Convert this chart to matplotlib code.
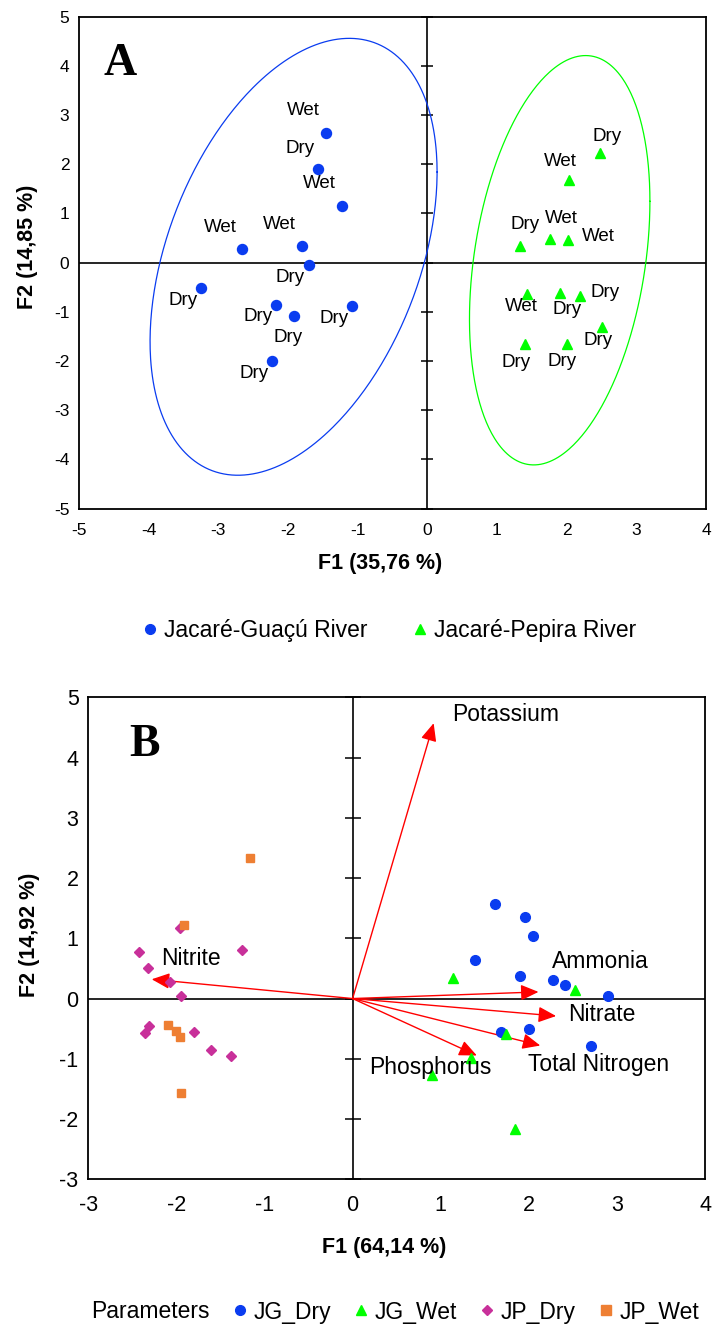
import numpy as np
import matplotlib
matplotlib.use("Agg")
import matplotlib.pyplot as plt
from matplotlib.lines import Line2D

plt.rcParams['font.family'] = ['Liberation Sans', 'DejaVu Sans']
plt.rcParams['axes.unicode_minus'] = False

# ---------------- Panel A data ----------------
jg_x = [-1.458, -1.575, -1.232, -2.66, -1.805, -1.705, -3.245, -2.178, -1.911, -1.079, -2.227]
jg_y = [2.64, 1.90, 1.153, 0.278, 0.339, -0.047, -0.522, -0.850, -1.075, -0.884, -2.002]
jg_season = ["Wet", "Dry", "Wet", "Wet", "Wet", "Dry", "Dry", "Dry", "Dry", "Dry", "Dry"]

jp_x = [2.475, 2.035, 1.331, 1.758, 2.026, 1.432, 1.911, 2.188, 2.514, 1.403, 2.001]
jp_y = [2.224, 1.681, 0.346, 0.476, 0.461, -0.636, -0.622, -0.677, -1.313, -1.652, -1.659]
jp_season = ["Dry", "Wet", "Dry", "Wet", "Wet", "Wet", "Dry", "Dry", "Dry", "Dry", "Dry"]

# label offsets (pixels, dx right, dy up)
jg_lab_dx = [-22, -18, -22, -22, -22, -18, -18, -18, -6, -18, -18]
jg_lab_dy = [22, 21, 22, 22, 22, -12, -12, -12, -22, -12, -12]
jp_lab_dx = [7, -9, 5, 12, 30, -6, 7, 25, -4, -9, -5]
jp_lab_dy = [17, 18, 21, 21, 4, -13, -16, 4, -13, -19, -17]

# confidence ellipses: centre, half-width, half-height, covariance term
ell_jg = dict(cx=-1.92, cy=0.12, hw=2.06, hh=4.44, sxy=3.55)
ell_jp = dict(cx=1.90, cy=0.05, hw=1.295, hh=4.16, sxy=1.55)

a_xticks = list(range(-5, 5))
a_yticks = list(range(-5, 6))

# ---------------- Panel B data ----------------
jg_dry_x = [1.62, 1.96, 2.05, 1.39, 1.90, 2.28, 2.41, 2.90, 1.69, 2.00, 2.71]
jg_dry_y = [1.57, 1.36, 1.04, 0.64, 0.37, 0.30, 0.22, 0.04, -0.56, -0.51, -0.78]
jg_wet_x = [1.14, 2.53, 1.74, 1.34, 0.90, 1.84]
jg_wet_y = [0.34, 0.14, -0.59, -0.98, -1.27, -2.16]
jp_dry_x = [-1.96, -2.42, -1.25, -2.32, -2.07, -1.95, -2.31, -2.36, -1.80, -1.61, -1.38]
jp_dry_y = [1.17, 0.78, 0.81, 0.51, 0.27, 0.04, -0.46, -0.57, -0.55, -0.86, -0.96]
jp_wet_x = [-1.91, -1.17, -2.10, -2.00, -1.96, -1.95]
jp_wet_y = [1.22, 2.34, -0.44, -0.54, -0.645, -1.57]

param_names = ["Potassium", "Nitrite", "Ammonia", "Nitrate", "Total Nitrogen", "Phosphorus"]
param_x = [0.92, -2.28, 2.11, 2.31, 2.13, 1.41]
param_y = [4.57, 0.32, 0.11, -0.29, -0.78, -0.945]
param_lab_x = [1.135, -1.84, 2.81, 2.83, 2.79, 0.885]
param_lab_y = [4.71, 0.67, 0.62, -0.26, -1.10, -1.15]
param_lab_ha = ["left", "center", "center", "center", "center", "center"]

b_xticks = list(range(-3, 5))
b_yticks = list(range(-3, 6))

# ---------------- Styling ----------------
BLUE = '#0A3CF0'
GREEN = '#00FF00'
MAGENTA = '#C8309A'
ORANGE = '#EE7F33'
RED = '#FF0000'

W, H = 713, 1331
fig = plt.figure(figsize=(W / 100, H / 100), dpi=100)


def px_axes(left, top, right, bottom):
    return fig.add_axes([left / W, 1 - bottom / H, (right - left) / W, (bottom - top) / H])


def ellipse_curve(e):
    M = np.array([[e['hw'] ** 2, e['sxy']], [e['sxy'], e['hh'] ** 2]])
    L = np.linalg.cholesky(M)
    t = np.linspace(0, 2 * np.pi, 400)
    pts = L @ np.vstack([np.cos(t), np.sin(t)])
    return pts[0] + e['cx'], pts[1] + e['cy']


def style_axes(ax, xt, yt, fs, xpad, ypad, tickw):
    ax.set_xlim(xt[0], xt[-1])
    ax.set_ylim(yt[0], yt[-1])
    ax.set_xticks(xt)
    ax.set_yticks(yt)
    ax.tick_params(length=0, labelsize=fs)
    ax.tick_params(axis='x', pad=xpad)
    ax.tick_params(axis='y', pad=ypad)
    for s in ax.spines.values():
        s.set_linewidth(1.3)
    ax.axhline(0, color='black', lw=1.2, zorder=1)
    ax.axvline(0, color='black', lw=1.2, zorder=1)
    ax.plot(np.zeros(len(yt)), yt, ls='none', marker='_', markersize=tickw,
            color='black', mew=1.1, zorder=1, clip_on=False)


# ---------------- Panel A ----------------
axA = px_axes(79, 16.7, 706, 508.7)
style_axes(axA, a_xticks, a_yticks, 12.5, 10, 7, 8)

ex, ey = ellipse_curve(ell_jg)
axA.plot(ex, ey, color=BLUE, lw=0.9, zorder=2)
ex, ey = ellipse_curve(ell_jp)
axA.plot(ex, ey, color=GREEN, lw=0.9, zorder=2)

axA.plot(jg_x, jg_y, ls='none', marker='o', ms=7.2, color=BLUE, mec=BLUE, zorder=3)
axA.plot(jp_x, jp_y, ls='none', marker='^', ms=7, color=GREEN, mec=GREEN, zorder=3)

for x, y, s, dx, dy in zip(jg_x, jg_y, jg_season, jg_lab_dx, jg_lab_dy):
    axA.annotate(s, (x, y), xytext=(dx * 0.72, dy * 0.72), textcoords='offset points',
                 ha='center', va='center', fontsize=13.5, zorder=4)
for x, y, s, dx, dy in zip(jp_x, jp_y, jp_season, jp_lab_dx, jp_lab_dy):
    axA.annotate(s, (x, y), xytext=(dx * 0.72, dy * 0.72), textcoords='offset points',
                 ha='center', va='center', fontsize=13.5, zorder=4)

axA.text(41 / 627, 1 - 47 / 492, "A", transform=axA.transAxes, ha='center', va='center',
         fontsize=33, fontweight='bold', family=['Liberation Serif', 'DejaVu Serif'])

fig.text(380 / W, 1 - 563 / H, "F1 (35,76 %)", ha='center', va='center', fontsize=15.5, fontweight='bold')
fig.text(28 / W, 1 - 247 / H, "F2 (14,85 %)", ha='center', va='center', rotation=90,
         fontsize=15.5, fontweight='bold')

legA = [Line2D([], [], ls='none', marker='o', ms=7, color=BLUE, label="Jacaré-Guaçú River"),
        Line2D([], [], ls='none', marker='^', ms=7, color=GREEN, label="Jacaré-Pepira River")]
fig.legend(handles=legA, loc='center', bbox_to_anchor=(390 / W, 1 - 631 / H), ncol=2,
           frameon=False, fontsize=16.5, handlelength=0.6, handletextpad=0.3, columnspacing=2.0)

# ---------------- Panel B ----------------
axB = px_axes(88.3, 697.3, 705, 1179.3)
style_axes(axB, b_xticks, b_yticks, 15.5, 11, 7, 11)

for tx, ty in zip(param_x, param_y):
    axB.annotate("", xy=(tx, ty), xytext=(0, 0),
                 arrowprops=dict(arrowstyle='-|>,head_length=0.9,head_width=0.4',
                                 mutation_scale=12, color=RED, lw=1.0,
                                 shrinkA=0, shrinkB=0), zorder=2)
for name, lx, ly, ha in zip(param_names, param_lab_x, param_lab_y, param_lab_ha):
    axB.text(lx, ly, name, ha=ha, va='center', fontsize=16.5, zorder=5)

axB.plot(jg_dry_x, jg_dry_y, ls='none', marker='o', ms=7, color=BLUE, zorder=3)
axB.plot(jg_wet_x, jg_wet_y, ls='none', marker='^', ms=6.5, color=GREEN, zorder=3)
axB.plot(jp_dry_x, jp_dry_y, ls='none', marker='D', ms=4.8, color=MAGENTA, zorder=3)
axB.plot(jp_wet_x, jp_wet_y, ls='none', marker='s', ms=6.3, color=ORANGE, zorder=4)

axB.text(56 / 616.7, 1 - 48 / 482, "B", transform=axB.transAxes, ha='center', va='center',
         fontsize=33, fontweight='bold', family=['Liberation Serif', 'DejaVu Serif'])

fig.text(384 / W, 1 - 1247 / H, "F1 (64,14 %)", ha='center', va='center', fontsize=15.5, fontweight='bold')
fig.text(30 / W, 1 - 935 / H, "F2 (14,92 %)", ha='center', va='center', rotation=90,
         fontsize=15.5, fontweight='bold')

legB = [Line2D([], [], ls='none', marker='', label="Parameters"),
        Line2D([], [], ls='none', marker='o', ms=7, color=BLUE, label="JG_Dry"),
        Line2D([], [], ls='none', marker='^', ms=7, color=GREEN, label="JG_Wet"),
        Line2D([], [], ls='none', marker='D', ms=5, color=MAGENTA, label="JP_Dry"),
        Line2D([], [], ls='none', marker='s', ms=6.5, color=ORANGE, label="JP_Wet")]
fig.legend(handles=legB, loc='center', bbox_to_anchor=(385 / W, 1 - 1312 / H), ncol=5,
           frameon=False, fontsize=16.5, handlelength=0.6, handletextpad=0.3, columnspacing=1.0)

fig.savefig("out.png", dpi=100)
